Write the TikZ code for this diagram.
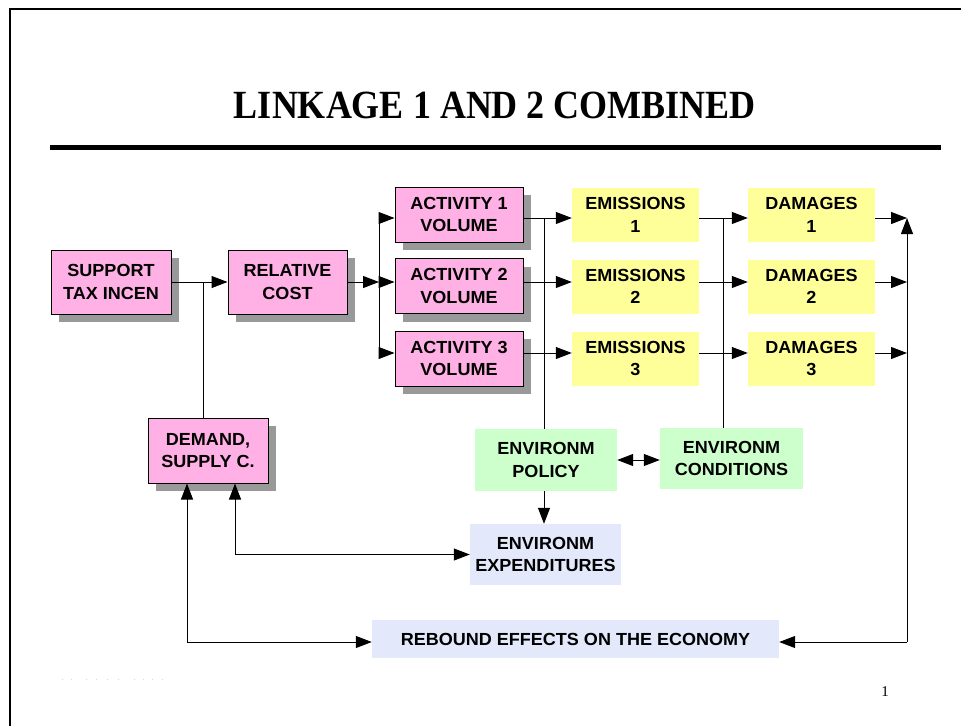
\documentclass[tikz,border=0pt]{standalone}
\usepackage{fontspec}
\setmainfont{Liberation Serif}
\newfontfamily\boxfont[FakeStretch=1.03]{Liberation Sans}
\newfontfamily\titlefont[FakeStretch=0.9]{Liberation Serif}
\usetikzlibrary{arrows.meta,shadows}

\definecolor{slidepink}{HTML}{FFB0E4}
\definecolor{slideyellow}{HTML}{FFFF99}
\definecolor{slidegreen}{HTML}{CCFFCC}
\definecolor{slideblue}{HTML}{E3E9FB}
\definecolor{shadowgray}{HTML}{999999}

\tikzset{
  box/.style={inner sep=0pt, align=center, minimum width=127pt, minimum height=55pt,
    font=\boxfont\bfseries\fontsize{17.5}{22.5}\selectfont},
  pinkbox/.style={box, draw=black, line width=1pt, fill=slidepink,
    drop shadow={shadow xshift=8pt, shadow yshift=-8pt, fill=shadowgray, opacity=1}},
  yellowbox/.style={box, fill=slideyellow},
  greenbox/.style={box, fill=slidegreen},
  bluebox/.style={box, fill=slideblue},
  arr/.style={line width=1pt, -{Triangle[length=16pt,width=12pt]}},
  dblarr/.style={line width=1pt, {Triangle[length=16pt,width=12pt]}-{Triangle[length=16pt,width=12pt]}},
  wire/.style={line width=1pt}
}

\begin{document}
\begin{tikzpicture}[x=1pt,y=-1pt]
\useasboundingbox (0,0) rectangle (961,726);

% Slide frame and title
  \draw[line width=2.5pt] (10,726) -- (10,9) -- (961,9);
  \node[font=\titlefont\bfseries\fontsize{40}{44}\selectfont, anchor=base] (title) at (495,118) {LINKAGE 1 AND 2 COMBINED};
  \draw[line width=5pt] (50,147) -- (941,147);

% Row levels and bus lines
  \coordinate (r1) at (0,218);
  \coordinate (r2) at (0,282);
  \coordinate (r3) at (0,353);
  \coordinate (low) at (0,642);
  \coordinate (busA) at (379,0);
  \coordinate (busB) at (544,0);
  \coordinate (busC) at (723,0);
  \coordinate (busD) at (907,0);
  \coordinate (jdem) at (203,282);
  \coordinate (dl) at (187,0);
  \coordinate (dr) at (235,0);

% Pink boxes
  \node[pinkbox, minimum width=120pt, minimum height=64pt] (support) at (111,282) {SUPPORT\\TAX INCEN};
  \node[pinkbox, minimum width=119pt, minimum height=64pt] (relcost) at (287.5,282) {RELATIVE\\COST};
  \node[pinkbox, minimum width=128pt] (act1) at (459,214.5) {ACTIVITY 1\\VOLUME};
  \node[pinkbox, minimum width=128pt] (act2) at (459,286) {ACTIVITY 2\\VOLUME};
  \node[pinkbox, minimum width=128pt] (act3) at (459,358.5) {ACTIVITY 3\\VOLUME};
  \node[pinkbox, minimum width=120pt, minimum height=65pt] (demand) at (208,450.5) {DEMAND,\\SUPPLY C.};

% Emissions and damages
  \foreach \i/\y in {1/215,2/286.5,3/358.5} {
    \node[yellowbox, minimum height=54pt] (em\i) at (635.5,\y) {EMISSIONS\\\i};
    \node[yellowbox, minimum height=54pt] (dam\i) at (811.5,\y) {DAMAGES\\\i};
  }

% Environment boxes
  \node[greenbox, minimum width=142pt, minimum height=62pt] (policy) at (546,460) {ENVIRONM\\POLICY};
  \node[greenbox, minimum width=143pt, minimum height=61pt] (conditions) at (731.5,458.5) {ENVIRONM\\CONDITIONS};
  \node[bluebox, minimum width=151pt, minimum height=61pt] (expend) at (545.5,554.5) {ENVIRONM\\EXPENDITURES};
  \node[bluebox, minimum width=407pt, minimum height=38pt] (rebound) at (575.5,639) {REBOUND EFFECTS ON THE ECONOMY};

% Connectors
  \draw[arr] (support) -- (relcost);
  \draw[wire] (jdem) -- (jdem |- demand.north);
  \draw[arr] (relcost) -- (busA |- relcost);
  \draw[wire] (busA |- r1) -- (busA |- r3);
  \draw[arr] (busA |- r1) -- (act1.west |- r1);
  \draw[arr] (busA |- r2) -- (act2.west |- r2);
  \draw[arr] (busA |- r3) -- (act3.west |- r3);
  \foreach \i in {1,2,3} {
    \draw[arr] (act\i.east |- r\i) -- (em\i.west |- r\i);
    \draw[arr] (em\i.east |- r\i) -- (dam\i.west |- r\i);
    \draw[arr] (dam\i.east |- r\i) -- (busD |- r\i);
  }
  \draw[wire] (busB |- r1) -- (busB |- policy.north);
  \draw[wire] (busC |- r1) -- (busC |- conditions.north);
  \draw[dblarr] (policy.east) -- (policy.east -| conditions.west);
  \draw[arr] (policy.south -| busB) -- (expend.north -| busB);
  \draw[arr] (busD |- low) -- (busD |- r1);
  \draw[arr] (busD |- low) -- (rebound.east |- low);
  \draw[dblarr] (demand.south -| dl) |- (rebound.west |- low);
  \draw[dblarr] (demand.south -| dr) |- (expend.west);

% Footer
  \node[font=\fontsize{6}{6}\selectfont, text=gray, anchor=west, inner sep=0pt] (footdots) at (62,680)
    {.\hspace{7.5pt}.\hspace{13.5pt}.\hspace{8.5pt}.\hspace{9.5pt}.\hspace{9.5pt}.\hspace{14.5pt}.\hspace{7.5pt}.\hspace{7.5pt}.\hspace{8.5pt}.};
  \node[font=\fontsize{15}{15}\selectfont, anchor=base] (pagenum) at (885,696) {1};
\end{tikzpicture}
\end{document}
